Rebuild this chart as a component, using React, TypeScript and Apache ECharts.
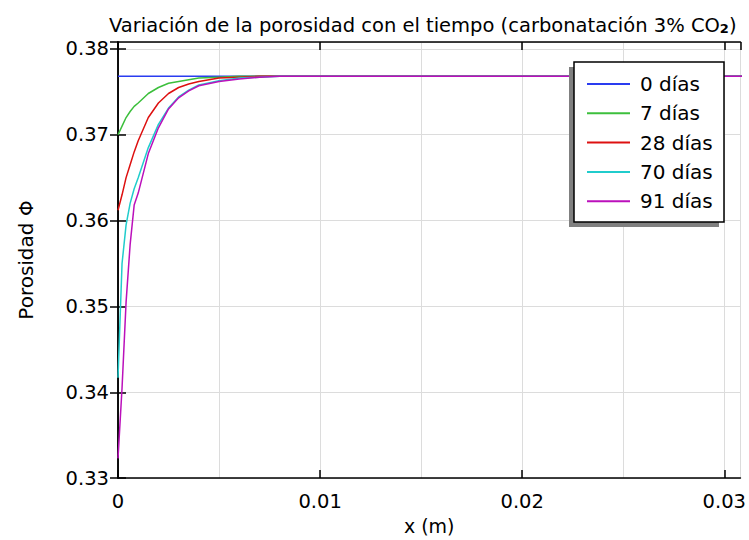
import React, { useEffect, useRef } from "react";
import * as echarts from "echarts";

const xPositions = [0, 0.0002, 0.0004, 0.0006, 0.0008, 0.001, 0.0015, 0.002, 0.0025, 0.003, 0.0035, 0.004, 0.005, 0.006, 0.007, 0.008, 0.01, 0.02, 0.031];
const seriesNames = ["0 días", "7 días", "28 días", "70 días", "91 días"];
const dias0 = [0.3768, 0.3768, 0.3768, 0.3768, 0.3768, 0.3768, 0.3768, 0.3768, 0.3768, 0.3768, 0.3768, 0.3768, 0.3768, 0.3768, 0.3768, 0.3768, 0.3768, 0.3768, 0.3768];
const dias7 = [0.37, 0.371, 0.372, 0.3727, 0.3733, 0.3737, 0.3748, 0.3755, 0.376, 0.3762, 0.3764, 0.3766, 0.3767, 0.3768, 0.3768, 0.3768, 0.3768, 0.3768, 0.3768];
const dias28 = [0.3612, 0.363, 0.365, 0.3665, 0.368, 0.3693, 0.372, 0.3737, 0.3748, 0.3755, 0.3759, 0.3762, 0.3766, 0.3767, 0.3768, 0.3768, 0.3768, 0.3768, 0.3768];
const dias70 = [0.3417, 0.355, 0.3595, 0.362, 0.3637, 0.365, 0.3685, 0.3712, 0.3731, 0.3744, 0.3752, 0.3758, 0.3763, 0.3766, 0.3767, 0.3768, 0.3768, 0.3768, 0.3768];
const dias91 = [0.3323, 0.3405, 0.3505, 0.3572, 0.3618, 0.3632, 0.3678, 0.3708, 0.373, 0.3743, 0.3751, 0.3757, 0.3762, 0.3765, 0.3767, 0.3768, 0.3768, 0.3768, 0.3768];
const seriesColors = ["#2a3cf0", "#3cbf3c", "#dd1010", "#20cccc", "#bb10bb"];

const FONT = "DejaVu Sans";

export default function App() {
  const ref = useRef<HTMLDivElement>(null);
  useEffect(() => {
    if (!ref.current) return;
    const chart = echarts.init(ref.current, null, { renderer: "svg" });
    const allValues = [dias0, dias7, dias28, dias70, dias91];
    const gridLine = { show: true, lineStyle: { color: "#dcdcdc", width: 1 } };
    chart.setOption({
      animation: false,
      backgroundColor: "#ffffff",
      textStyle: { fontFamily: FONT },
      title: {
        text: "{a|Variación de la porosidad con el tiempo (carbonatación 3% CO}{s|2}{a|)}",
        left: 104,
        top: 8,
        textStyle: {
          rich: {
            a: { fontFamily: FONT, fontSize: 19.5, color: "#000", fontWeight: "normal", verticalAlign: "bottom" },
            s: { fontFamily: FONT, fontSize: 13, color: "#000", padding: [9, 0, 0, 0], verticalAlign: "bottom" },
          },
        },
      },
      grid: { left: 118, top: 42, right: 4, height: 449, containLabel: false },
      legend: {
        orient: "vertical",
        left: 582,
        top: 69,
        z: 10,
        itemWidth: 43,
        itemHeight: 2,
        itemGap: 9.3,
        icon: "rect",
        textStyle: { fontFamily: FONT, fontSize: 20, color: "#000", lineHeight: 20, padding: [0, 0, 0, 5] },
        data: seriesNames,
      },
      graphic: [
        { type: "rect", z: 5, shape: { x: 569, y: 67, width: 150, height: 160 }, style: { fill: "#808080" } },
        { type: "rect", z: 6, shape: { x: 574, y: 62, width: 150, height: 160 }, style: { fill: "#ffffff", stroke: "#000", lineWidth: 1.5 } },
      ],
      xAxis: [
        {
          type: "value",
          min: 0,
          max: 0.0308,
          interval: 0.01,
          name: "x (m)",
          nameLocation: "middle",
          nameGap: 29,
          nameTextStyle: { fontFamily: FONT, fontSize: 19, color: "#000" },
          axisLine: { show: true, lineStyle: { color: "#000", width: 1.5 } },
          axisTick: { show: true, inside: true, length: 8, lineStyle: { color: "#000", width: 1.5 } },
          axisLabel: { fontFamily: FONT, fontSize: 19.5, color: "#000", margin: 13 },
          splitLine: gridLine,
          minorTick: { show: false, splitNumber: 2 },
          minorSplitLine: { show: true, lineStyle: { color: "#dcdcdc", width: 1 } },
        },
        {
          type: "value",
          position: "top",
          min: 0,
          max: 0.0308,
          interval: 0.01,
          axisLine: { show: true, lineStyle: { color: "#000", width: 1.5 } },
          axisTick: { show: true, inside: true, length: 8, lineStyle: { color: "#000", width: 1.5 } },
          axisLabel: { show: false },
          splitLine: { show: false },
        },
      ],
      yAxis: [
        {
          type: "value",
          min: 0.33,
          max: 0.3808,
          interval: 0.01,
          name: "Porosidad Φ",
          nameLocation: "middle",
          nameGap: 82,
          nameTextStyle: { fontFamily: FONT, fontSize: 20, color: "#000" },
          axisLine: { show: true, lineStyle: { color: "#000", width: 1.5 } },
          axisTick: { show: true, inside: true, length: 8, lineStyle: { color: "#000", width: 1.5 } },
          axisLabel: { fontFamily: FONT, fontSize: 19.5, color: "#000", margin: 9, formatter: (v: number) => v.toFixed(2) },
          splitLine: gridLine,
        },
        {
          type: "value",
          position: "right",
          min: 0.33,
          max: 0.3808,
          interval: 0.01,
          axisLine: { show: true, lineStyle: { color: "#000", width: 1.5 } },
          axisTick: { show: true, inside: true, length: 8, lineStyle: { color: "#000", width: 1.5 } },
          axisLabel: { show: false },
          splitLine: { show: false },
        },
      ],
      series: seriesNames.map((name, i) => ({
        name,
        type: "line",
        symbol: "none",
        color: seriesColors[i],
        lineStyle: { width: 1.5, color: seriesColors[i] },
        data: xPositions.map((x, j) => [x, allValues[i][j]]),
        z: 2,
      })),
    });
    return () => chart.dispose();
  }, []);
  return <div ref={ref} style={{ position: "fixed", left: 0, top: 0, width: 749, height: 540 }} />;
}
